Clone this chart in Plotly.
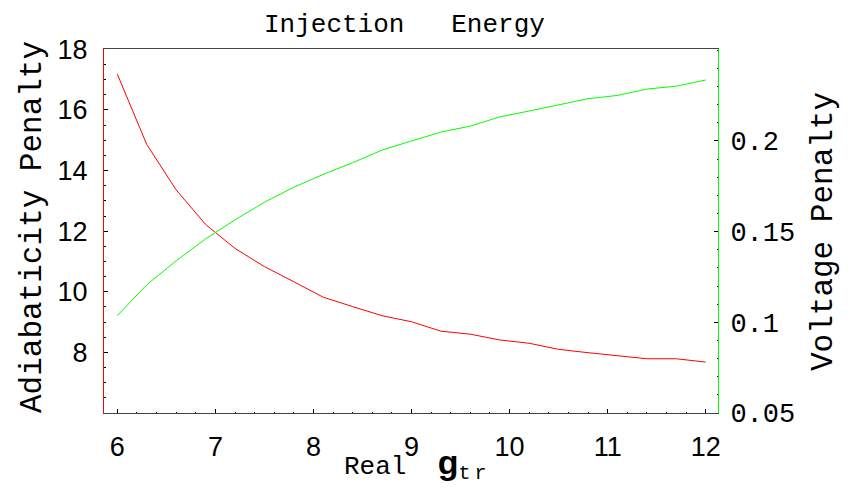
import plotly.graph_objects as go

gamma_tr = [6.0, 6.3, 6.6, 6.9, 7.2, 7.5, 7.8, 8.1, 8.4, 8.7, 9.0,
            9.3, 9.6, 9.9, 10.2, 10.5, 10.8, 11.1, 11.4, 11.7, 12.0]
adiabaticity_penalty = [17.18, 14.86, 13.36, 12.22, 11.43, 10.83, 10.33, 9.82, 9.51, 9.21, 9.01,
                        8.70, 8.60, 8.41, 8.30, 8.10, 7.99, 7.88, 7.79, 7.79, 7.68]
voltage_penalty = [0.1037, 0.1207, 0.1339, 0.1460, 0.1565, 0.1662, 0.1745, 0.1816, 0.1880, 0.1950, 0.2000,
                   0.2049, 0.2082, 0.2133, 0.2165, 0.2198, 0.2233, 0.2251, 0.2286, 0.2302, 0.2336]

x_ticks = [6, 7, 8, 9, 10, 11, 12]
left_ticks = [8, 10, 12, 14, 16, 18]
right_ticks = [0.05, 0.1, 0.15, 0.2]
right_ticktext = ["0.05", "0.1", "0.15", "0.2"]

MONO = "Liberation Mono"
SANS = "Liberation Sans"

fig = go.Figure()
fig.add_trace(go.Scatter(x=gamma_tr, y=adiabaticity_penalty, mode="lines",
                         line=dict(color="#ff0000", width=1), yaxis="y", showlegend=False))
fig.add_trace(go.Scatter(x=gamma_tr, y=voltage_penalty, mode="lines",
                         line=dict(color="#00ff00", width=1), yaxis="y2", showlegend=False))

fig.update_layout(
    width=853, height=488,
    margin=dict(l=104, r=135, t=49, b=75),
    paper_bgcolor="white", plot_bgcolor="white",
    xaxis=dict(range=[5.864, 12.125], tickvals=x_ticks, showgrid=False, zeroline=False,
               showline=True, linecolor="#444444", linewidth=1, mirror=True,
               ticks="inside", ticklen=4, tickcolor="#000000", tickwidth=1,
               minor=dict(dtick=0.2, ticks="inside", ticklen=1.5, tickcolor="#000000", showgrid=False),
               tickfont=dict(family=SANS, size=27, color="#000000"), ticklabelstandoff=10),
    yaxis=dict(range=[6, 18.01], tickvals=left_ticks, showgrid=False, zeroline=False,
               showline=True, linecolor="#ff0000", linewidth=1,
               ticks="inside", ticklen=4, tickcolor="#000000", tickwidth=1,
               minor=dict(dtick=0.5, ticks="inside", ticklen=1.5, tickcolor="#000000", showgrid=False),
               tickfont=dict(family=SANS, size=27, color="#000000"), ticklabelstandoff=10),
    yaxis2=dict(range=[0.05, 0.2507], tickvals=right_ticks, ticktext=right_ticktext,
                overlaying="y", side="right", showgrid=False, zeroline=False,
                showline=True, linecolor="#00ff00", linewidth=1,
                ticks="inside", ticklen=4, tickcolor="#000000", tickwidth=1,
                minor=dict(dtick=0.01, ticks="inside", ticklen=1.5, tickcolor="#000000", showgrid=False),
                tickfont=dict(family=MONO, size=27, color="#000000"), ticklabelstandoff=6),
    annotations=[
        dict(text="Injection\u00a0\u00a0\u00a0Energy", xref="paper", yref="paper", x=0.5, y=1,
             xanchor="center", yanchor="bottom", xshift=-7, yshift=7, showarrow=False,
             font=dict(family=MONO, size=26, color="#000000")),
        dict(text="Adiabaticity\u00a0Penalty", xref="paper", yref="paper", x=0, y=0.5,
             xanchor="center", yanchor="middle", xshift=-72, yshift=4, textangle=-90, showarrow=False,
             font=dict(family=MONO, size=31, color="#000000")),
        dict(text="Voltage\u00a0Penalty", xref="paper", yref="paper", x=1, y=0.5,
             xanchor="center", yanchor="middle", xshift=105, yshift=-1, textangle=-90, showarrow=False,
             font=dict(family=MONO, size=31, color="#000000")),
        dict(text=("Real\u00a0\u00a0<span style='font-family:Liberation Sans;font-weight:bold;font-size:34px'>g</span>"
                   "<sub><span style='font-size:20px'>t\u2009r</span></sub>"),
             xref="paper", yref="paper", x=0.5, y=0, xanchor="center", yanchor="bottom",
             xshift=4, yshift=-74, showarrow=False,
             font=dict(family=MONO, size=26, color="#000000")),
    ],
)

fig.write_html("out.html")
